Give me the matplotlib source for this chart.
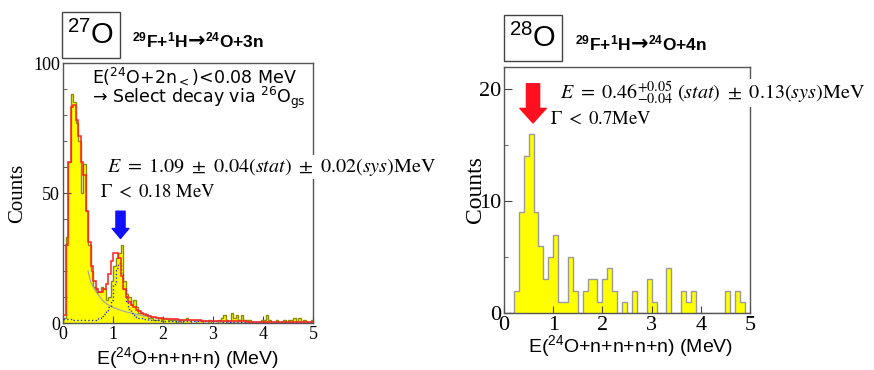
import numpy as np
import matplotlib.pyplot as plt
from matplotlib.patches import Rectangle

# --- 27O panel: 24O+n+n+n, 0.05 MeV bins ---
e27 = np.linspace(0, 5, 101)
cnt27 = [2, 33, 62, 88, 85, 77, 70, 50, 61, 43,
         30, 20, 14, 12, 12, 14, 13, 9, 10, 16,
         22, 25, 27, 30, 16, 11, 10, 7, 9, 6,
         4, 4, 3, 3, 2, 2, 1, 1, 2, 1,
         2, 2, 1, 1, 1, 0, 1, 0, 1, 2,
         1, 0, 0, 1, 1, 1, 0, 0, 1, 0,
         0, 0, 1, 2, 3, 1, 0, 4, 2, 3,
         1, 3, 1, 1, 1, 0, 0, 0, 0, 1,
         1, 3, 1, 0, 0, 1, 0, 0, 1, 0,
         1, 1, 2, 0, 2, 0, 1, 0, 0, 1]
fit27 = [3, 30, 62, 83, 84, 78, 72, 62, 57, 43,
         31, 22, 16, 13, 12, 12, 13, 15, 19, 24,
         27, 27, 25, 18, 13, 10, 8, 7, 6, 5,
         4.5, 4, 3.5, 3, 2.8, 2.5, 2.2, 2, 1.9, 1.8,
         1.7, 1.6, 1.5, 1.5, 1.4, 1.4, 1.3, 1.3, 1.2, 1.2,
         1.1, 1.1, 1.0, 1.0, 1.0, 0.9, 0.9, 0.9, 0.8, 0.8,
         0.8, 0.8, 0.7, 0.7, 0.7, 0.7, 0.7, 0.6, 0.6, 0.6,
         0.6, 0.6, 0.6, 0.5, 0.5, 0.5, 0.5, 0.5, 0.5, 0.5,
         0.5, 0.4, 0.4, 0.4, 0.4, 0.4, 0.4, 0.4, 0.4, 0.4,
         0.4, 0.4, 0.3, 0.3, 0.3, 0.3, 0.3, 0.3, 0.3, 0.3]
peak27 = [1.7, 1.6, 1.5, 1.4, 1.3, 1.2, 1.2, 1.1, 1.1, 1.1,
          1.1, 1.2, 1.3, 1.5, 2.0, 2.6, 3.5, 4.5, 6, 9,
          15, 21, 23, 19, 13, 8, 5.5, 4, 3, 2.5,
          2.1, 1.8, 1.6, 1.4, 1.3, 1.2, 1.1, 1.0, 1.0, 0.9,
          0.9, 0.9, 0.8, 0.8, 0.8, 0.8, 0.8, 0.7, 0.7, 0.7,
          0.7, 0.7, 0.7, 0.7, 0.6, 0.6, 0.6, 0.6, 0.6, 0.6,
          0.6, 0.6, 0.6, 0.5, 0.5, 0.5, 0.5, 0.5, 0.5, 0.5,
          0.5, 0.5, 0.5, 0.5, 0.5, 0.5, 0.5, 0.5, 0.5, 0.5,
          0.4, 0.4, 0.4, 0.4, 0.4, 0.4, 0.4, 0.4, 0.4, 0.4,
          0.4, 0.4, 0.4, 0.4, 0.4, 0.4, 0.4, 0.4, 0.4, 0.4]
bg27_e = [0.5, 0.55, 0.6, 0.7, 0.8, 0.9, 1.0, 1.2, 1.4, 1.6, 1.8, 2.0, 2.5, 3.0, 4.0, 5.0]
bg27 = [20, 16, 14, 11, 8.5, 7, 6, 4.6, 3.6, 2.8, 2.2, 1.7, 1.0, 0.6, 0.3, 0.15]

# --- 28O panel: 24O+n+n+n+n, 0.1 MeV bins ---
e28 = np.linspace(0, 5, 51)
cnt28 = [0, 0, 2, 9, 14, 16, 9, 6, 3, 5,
         7, 1, 1, 5, 2, 0, 2, 3, 3, 1,
         3, 4, 2, 0, 1, 0, 2, 0, 0, 3,
         1, 0, 0, 4, 0, 0, 2, 1, 2, 0,
         0, 0, 0, 0, 0, 2, 0, 2, 1, 0]

plt.rcParams['mathtext.fontset'] = 'custom'
plt.rcParams['mathtext.rm'] = 'Liberation Sans'
plt.rcParams['mathtext.it'] = 'Liberation Sans:italic'
plt.rcParams['mathtext.bf'] = 'Liberation Sans:bold'

fig = plt.figure(figsize=(8.74, 3.7), dpi=100)
W, H = 874.0, 370.0

def fx(px):
    return px / W

def fy(py):
    return 1 - py / H

ax1 = fig.add_axes([fx(63), fy(323), 250 / W, 260 / H])
ax2 = fig.add_axes([fx(504), fy(313), 246 / W, 246 / H])

# left histogram and fit curves
ax1.stairs(cnt27, e27, fill=True, facecolor='#ffff00', edgecolor='none', zorder=1)
ax1.stairs(cnt27, e27, color='#8c8c00', lw=1.0, zorder=2)
ax1.plot(bg27_e, bg27, color='#a8a8a8', lw=0.9, zorder=3)
ax1.stairs(peak27, e27, color='#2030e0', lw=1.0, ls=':', baseline=None, zorder=4)
ax1.stairs(fit27, e27, color='#ff2020', lw=1.1, baseline=None, zorder=5)
ax1.set_xlim(0, 5)
ax1.set_ylim(0, 100)
ax1.set_yticks([0, 50, 100])
ax1.set_yticks(np.arange(0, 101, 10), minor=True)

# right histogram
ax2.stairs(cnt28, e28, fill=True, facecolor='#ffff00', edgecolor='none', zorder=1)
ax2.stairs(cnt28, e28, color='#9a9a9a', lw=1.0, zorder=2)
ax2.set_xlim(0, 5)
ax2.set_ylim(0, 22)
ax2.set_yticks([0, 10, 20])
ax2.set_yticks([5, 15], minor=True)

for ax, fs in [(ax1, 13), (ax2, 16)]:
    ax.set_xticks([0, 1, 2, 3, 4, 5])
    ax.tick_params(which='both', direction='in', colors='#444444', labelcolor='black',
                   labelsize=fs, pad=2)
    ax.tick_params(which='major', length=6)
    ax.tick_params(which='minor', length=3)
    ax.tick_params(axis='x', which='both', length=5)
    for lab in ax.get_xticklabels() + ax.get_yticklabels():
        lab.set_family('Liberation Serif')
    for s in ax.spines.values():
        s.set_color('#555555')
        s.set_linewidth(1.0)

# arrows
ax1.annotate('', xy=(1.15, 32.5), xytext=(1.15, 43),
             arrowprops=dict(arrowstyle='simple,head_width=1.0,head_length=0.6,tail_width=0.55',
                             color='#1010ff', mutation_scale=12, shrinkA=0, shrinkB=0))
ax2.annotate('', xy=(0.59, 17), xytext=(0.59, 20.5),
             arrowprops=dict(arrowstyle='simple,head_width=1.0,head_length=0.55,tail_width=0.5',
                             color='#ff1020', mutation_scale=19, shrinkA=0, shrinkB=0))

# title boxes
for x0, y0, lab in [(62, 12, '$^{27}$O'), (504, 15, '$^{28}$O')]:
    fig.add_artist(Rectangle((fx(x0), fy(y0 + 46)), 58 / W, 46 / H, transform=fig.transFigure,
                             fill=False, ec='#444444', lw=1.0))
    fig.text(fx(x0 + 29), fy(y0 + 23), lab, ha='center', va='center', fontsize=21,
             family='Liberation Sans')

# reaction labels: text, heavy arrow, text
renderer = fig.canvas.get_renderer()
for x0, y0, n in [(132, 47, '3n'), (575, 50, '4n')]:
    t1 = fig.text(fx(x0), fy(y0), r'$^{\mathbf{29}}$F+$^{\mathbf{1}}$H', ha='left', va='baseline',
                  fontsize=12.5, fontweight='bold', family='Liberation Sans')
    x1 = t1.get_window_extent(renderer).x1
    t2 = fig.text(x1 / W, fy(y0), '\u2192', ha='left', va='baseline',
                  fontsize=15, fontweight='bold', family='DejaVu Sans')
    x2 = t2.get_window_extent(renderer).x1
    fig.text(x2 / W, fy(y0), r'$^{\mathbf{24}}$O+' + n, ha='left', va='baseline',
             fontsize=12.5, fontweight='bold', family='Liberation Sans')

# annotations in left panel
fig.text(fx(92), fy(76), 'E($^{24}$O+2n$_{<}$)<0.08 MeV', ha='left', va='center', fontsize=12.5,
         family='DejaVu Sans', math_fontfamily='dejavusans')
fig.text(fx(92), fy(98), '\u2192 Select decay via $^{26}$O$_{\\mathrm{gs}}$', ha='left', va='center',
         fontsize=12.5, family='DejaVu Sans', math_fontfamily='dejavusans')
fig.text(fx(107), fy(167),
         r'$E\ =\ 1.09\ \pm\ 0.04(\mathit{stat})\ \pm\ 0.02(\mathit{sys})\mathrm{MeV}$',
         ha='left', va='center', fontsize=14.5, math_fontfamily='stix',
         bbox=dict(fc='white', ec='none', pad=0.5))
fig.text(fx(100), fy(191), r'$\Gamma\ <\ 0.18\ \mathrm{MeV}$', ha='left', va='center',
         fontsize=13.5, math_fontfamily='stix')

# annotations in right panel
fig.text(fx(560), fy(93),
         r'$E\ =\ 0.46^{+0.05}_{-0.04}\ (\mathit{stat})\ \pm\ 0.13(\mathit{sys})\mathrm{MeV}$',
         ha='left', va='center', fontsize=14.5, math_fontfamily='stix',
         bbox=dict(fc='white', ec='none', pad=0.5))
fig.text(fx(550), fy(118), r'$\Gamma\ <\ 0.7\mathrm{MeV}$', ha='left', va='center',
         fontsize=13.5, math_fontfamily='stix')

# axis labels
fig.text(fx(188), fy(358), 'E($^{24}$O+n+n+n) (MeV)', ha='center', va='center', fontsize=14,
         family='Liberation Sans')
fig.text(fx(631), fy(346), 'E($^{24}$O+n+n+n+n) (MeV)', ha='center', va='center', fontsize=14,
         family='Liberation Sans')
fig.text(fx(18), fy(193), 'Counts', rotation=90, ha='center', va='center', fontsize=15,
         family='Liberation Serif')
fig.text(fx(476), fy(190), 'Counts', rotation=90, ha='center', va='center', fontsize=17,
         family='Liberation Serif')

fig.savefig('out.png', dpi=100)
